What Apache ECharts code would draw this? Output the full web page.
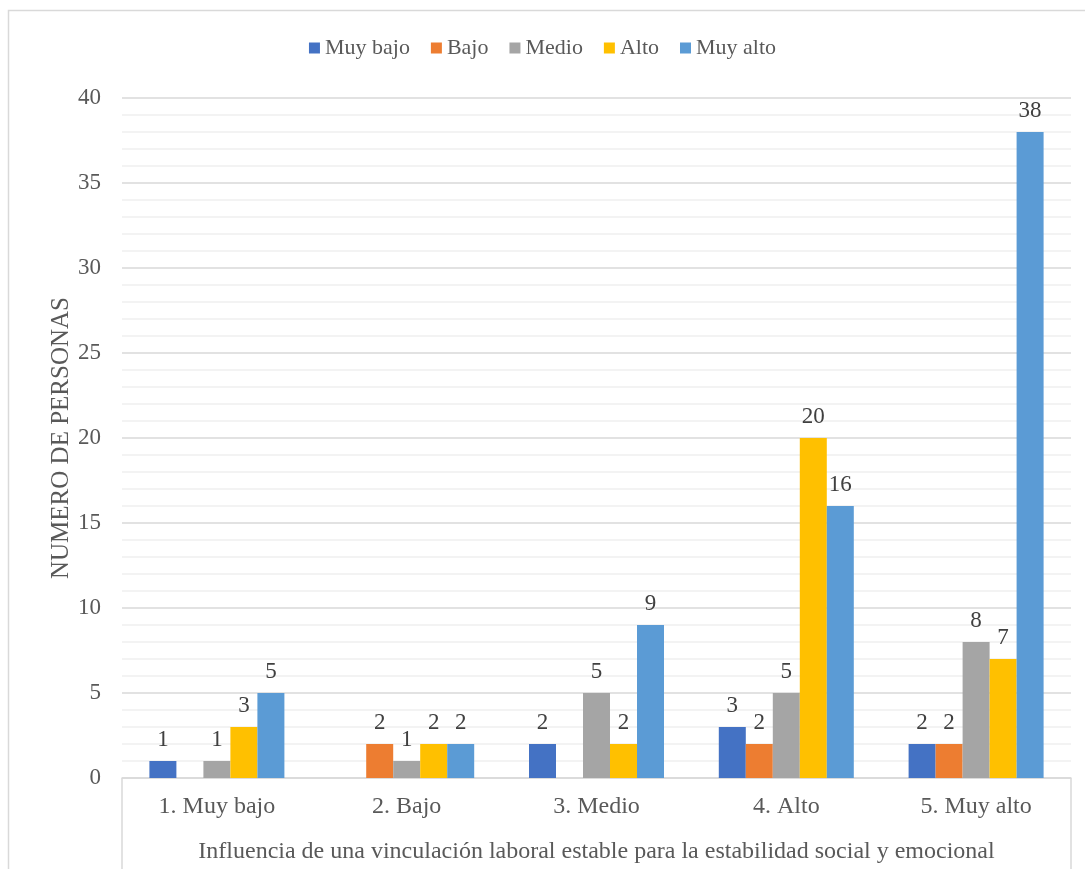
<!DOCTYPE html>
<html>
<head>
<meta charset="utf-8">
<script src="https://cdn.jsdelivr.net/npm/echarts@6/dist/echarts.min.js"></script>
<style>html,body{margin:0;padding:0;background:#fff}#c{width:1085px;height:869px}</style>
</head>
<body>
<div id="c"></div>
<script>
const categories = ['1. Muy bajo', '2. Bajo', '3. Medio', '4. Alto', '5. Muy alto'];
const seriesNames = ['Muy bajo', 'Bajo', 'Medio', 'Alto', 'Muy alto'];
const muyBajo = [1, null, 2, 3, 2];
const bajo = [null, 2, null, 2, 2];
const medio = [1, 1, 5, 5, 8];
const alto = [3, 2, 2, 20, 7];
const muyAlto = [5, 2, 9, 16, 38];
const colors = ['#4472C4', '#ED7D31', '#A5A5A5', '#FFC000', '#5B9BD5'];
const yTicks = [0, 5, 10, 15, 20, 25, 30, 35, 40];

const FONT = 'Liberation Serif';
const TXT = '#595959';
const chart = echarts.init(document.getElementById('c'));
const gridL = 122, gridR = 14, gridT = 98, gridB = 91;
const allData = [muyBajo, bajo, medio, alto, muyAlto];

chart.setOption({
  animation: false,
  color: colors,
  textStyle: { fontFamily: FONT },
  legend: {
    top: 32, left: 'center',
    icon: 'rect', itemWidth: 11, itemHeight: 11, itemGap: 21,
    textStyle: { fontFamily: FONT, fontSize: 22, color: TXT, padding: [0, 0, 0, 0] },
    data: seriesNames
  },
  grid: { left: gridL, right: gridR, top: gridT, bottom: gridB, outerBoundsMode: 'none', containLabel: false },
  xAxis: {
    type: 'category', data: categories,
    axisLine: { show: true, lineStyle: { color: '#d9d9d9', width: 1.5 } },
    axisTick: { show: false },
    axisLabel: { fontFamily: FONT, fontSize: 24, color: TXT, margin: 17 },
    name: 'Influencia de una vinculación laboral estable para la estabilidad social y emocional',
    nameLocation: 'middle', nameGap: 62, nameMoveOverlap: false,
    nameTextStyle: { fontFamily: FONT, fontSize: 24, color: TXT }
  },
  yAxis: {
    type: 'value', min: yTicks[0], max: yTicks[yTicks.length - 1], interval: 5,
    axisLine: { show: false }, axisTick: { show: false },
    axisLabel: { fontFamily: FONT, fontSize: 23, color: TXT, margin: 21 },
    splitLine: { show: true, lineStyle: { color: '#d9d9d9', width: 1.5 } },
    minorTick: { show: false, splitNumber: 5 },
    minorSplitLine: { show: true, lineStyle: { color: '#f0f0f0', width: 1.5 } },
    name: 'NUMERO DE PERSONAS', nameLocation: 'middle', nameGap: 48, nameRotate: 90, nameMoveOverlap: false,
    nameTextStyle: { fontFamily: FONT, fontSize: 25, color: TXT }
  },
  series: seriesNames.map((n, i) => ({
    name: n, type: 'bar', data: allData[i],
    barWidth: 27, barGap: '0%',
    itemStyle: { color: colors[i] },
    label: { show: true, position: 'top', distance: 10, fontFamily: FONT, fontSize: 23, color: '#404040' }
  })),
  graphic: [
    { type: 'rect', shape: { x: 8.5, y: 10.5, width: 1200, height: 1000 }, style: { fill: 'none', stroke: '#d9d9d9', lineWidth: 1.5 }, silent: true },
    { type: 'line', shape: { x1: gridL, y1: 869 - gridB, x2: gridL, y2: 869 }, style: { stroke: '#d9d9d9', lineWidth: 1.5 }, silent: true },
    { type: 'line', shape: { x1: 1085 - gridR, y1: 869 - gridB, x2: 1085 - gridR, y2: 869 }, style: { stroke: '#d9d9d9', lineWidth: 1.5 }, silent: true }
  ]
});
</script>
</body>
</html>
